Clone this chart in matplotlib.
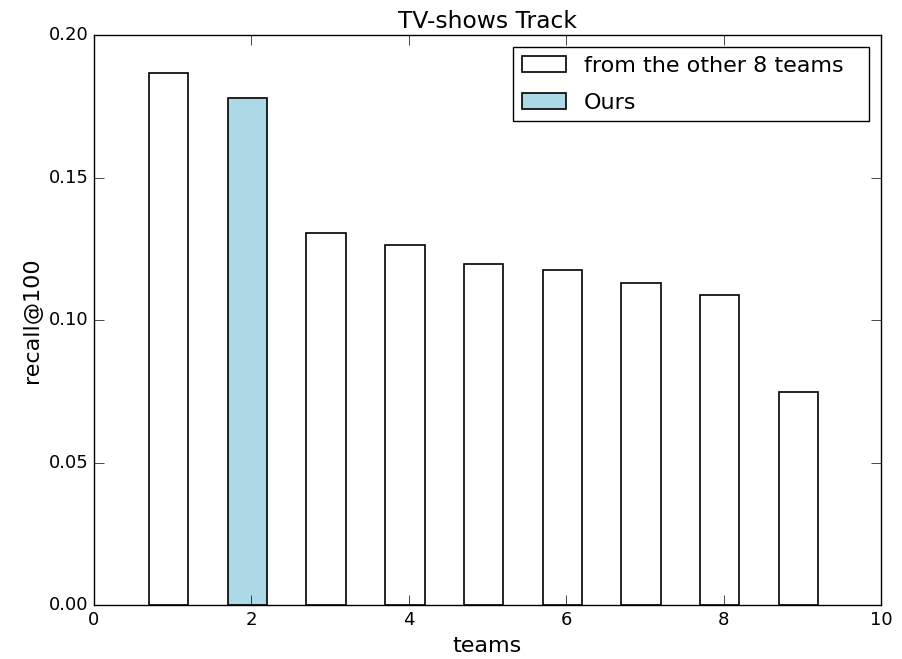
import matplotlib
matplotlib.use("Agg")
import matplotlib.pyplot as plt
import numpy as np

plt.style.use("classic")
plt.rcParams['font.family'] = ['DejaVu Sans']

teams = [1, 2, 3, 4, 5, 6, 7, 8, 9]
recall = [0.1867, 0.1779, 0.1305, 0.1263, 0.1196, 0.1175, 0.1130, 0.1088, 0.0747]
ours_index = 1

fig = plt.figure(figsize=(9.02, 6.59), dpi=100)
ax = fig.add_axes([0.1042, 0.0819, 0.9767 - 0.1042, 0.9469 - 0.0819])

other_x = [t for i, t in enumerate(teams) if i != ours_index]
other_y = [v for i, v in enumerate(recall) if i != ours_index]
x_arr = np.array(other_x, dtype=float)
ax.bar(x_arr - 0.3, other_y, width=0.5, align='edge', color='white',
       edgecolor='black', linewidth=1.2, label='from the other 8 teams')
ax.bar(np.array([teams[ours_index]], dtype=float) - 0.3, [recall[ours_index]],
       width=0.5, align='edge', color='lightblue', edgecolor='black',
       linewidth=1.2, label='Ours')

ax.set_xlim(0, 10)
ax.set_ylim(0, 0.20)
ax.set_xticks([0, 2, 4, 6, 8, 10])
ax.set_yticks([0.00, 0.05, 0.10, 0.15, 0.20])
ax.set_yticklabels(['0.00', '0.05', '0.10', '0.15', '0.20'])
ax.tick_params(labelsize=13, direction='in', length=7, top=True, right=True)
ax.set_xlabel('teams', fontsize=16)
ax.set_ylabel('recall@100', fontsize=16)
ax.set_title('TV-shows Track', fontsize=16.8)
ax.legend(loc='upper left', fontsize=16, frameon=True, fancybox=False,
          bbox_to_anchor=(0.5324, 0.0, 0.4524, 0.979), mode='expand',
          borderaxespad=0, labelspacing=0.75)

fig.savefig('out.png', dpi=100)
